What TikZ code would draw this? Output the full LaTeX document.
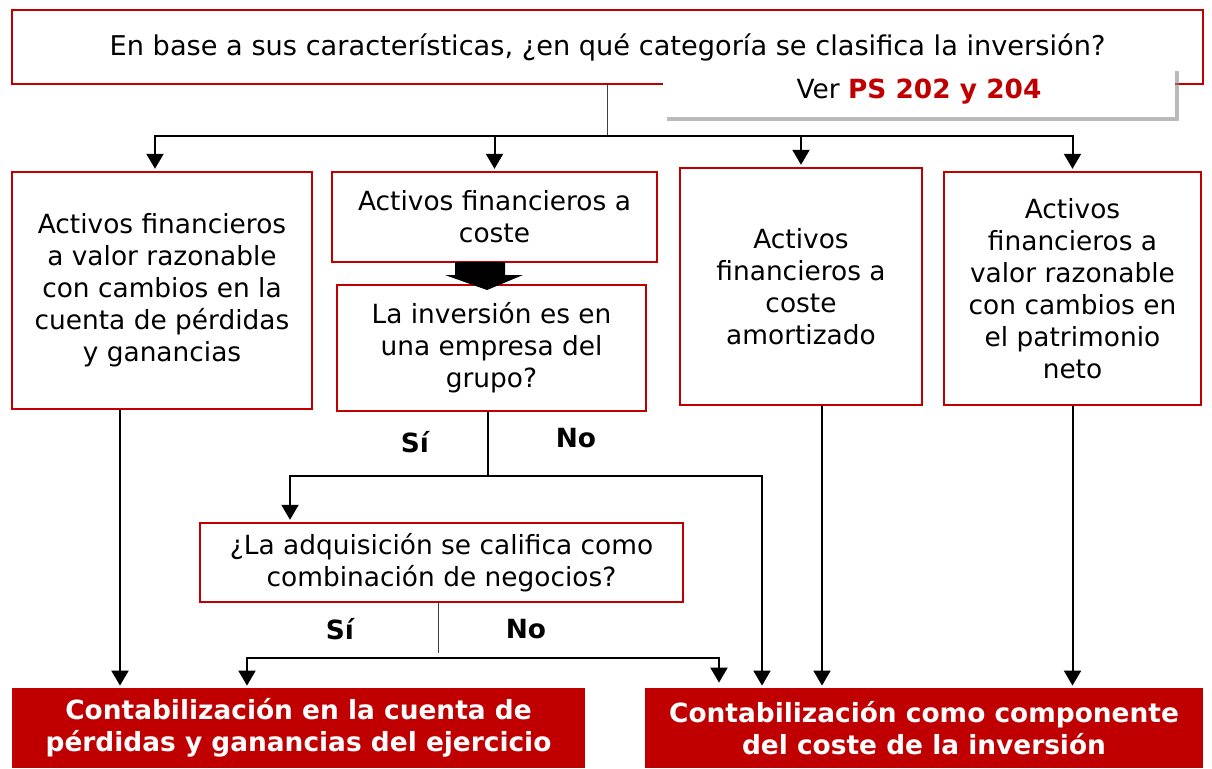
\documentclass[tikz,border=0pt]{standalone}
\usepackage{fontspec}
\setmainfont{DejaVu Sans}
\usepackage{tikz}
\usetikzlibrary{calc,arrows.meta,shadows}
\definecolor{pwcred}{HTML}{C00000}
\newcommand{\txtsize}{\fontsize{13.2}{16}\selectfont}

\begin{document}
\begin{tikzpicture}[x=0.5pt,y=-0.5pt,
		box/.style={draw=pwcred,line width=1.2pt,fill=white,inner sep=0pt,align=center,font=\txtsize},
		result/.style={fill=pwcred,inner sep=0pt,align=center,text=white,font=\txtsize\bfseries},
		flow/.style={line width=1pt,shorten >=1pt,-{Triangle[length=7.5pt,width=8.5pt]}},
		link/.style={line width=1pt},
		thinlink/.style={line width=0.5pt,black!75},
		answer/.style={font=\txtsize\bfseries}]
		\useasboundingbox[fill=white] (0,0) rectangle (1212,768);
		% question
		\node[box,minimum width=595.5pt,minimum height=37pt,font=\fontsize{13.6}{16}\selectfont] (q) at (607.5,47)
			{En base a sus características, ¿en qué categoría se clasifica la inversión?};
		\node[fill=white,inner sep=0pt,minimum width=256pt,minimum height=25pt,font=\txtsize,
			drop shadow={shadow xshift=2pt,shadow yshift=-2pt,fill=black!45,opacity=0.6}] (ver) at (919,92)
			{Ver \textcolor{pwcred}{\bfseries PS 202 y 204}};
		% categories
		\node[box,minimum width=150pt,minimum height=118.5pt] (b1) at (162,290.5)
			{Activos financieros\\a valor razonable\\con cambios en la\\cuenta de pérdidas\\y ganancias};
		\node[box,minimum width=162.5pt,minimum height=45pt] (b2) at (494.5,217)
			{Activos financieros a\\coste};
		\node[box,minimum width=154.5pt,minimum height=63pt] (b3) at (491.5,348)
			{La inversión es en\\una empresa del\\grupo?};
		\node[box,minimum width=121pt,minimum height=118.5pt] (b4) at (801,286.5)
			{Activos\\financieros a\\coste\\amortizado};
		\node[box,minimum width=128.5pt,minimum height=116.5pt] (b5) at (1072.5,288.5)
			{Activos\\financieros a\\valor razonable\\con cambios en\\el patrimonio\\neto};
		\node[box,minimum width=241.5pt,minimum height=39.5pt] (b6) at (441.5,562.5)
			{¿La adquisición se califica como\\combinación de negocios?};
		% results
		\node[result,minimum width=286.5pt,minimum height=40pt] (r1) at (298.5,728)
			{Contabilización en la cuenta de\\pérdidas y ganancias del ejercicio};
		\node[result,minimum width=279pt,minimum height=40pt] (r2) at (924,728)
			{Contabilización como componente\\del coste de la inversión};
		% answers
		\node[answer] (si1) at (415,442) {Sí};
		\node[answer] (no1) at (576,438) {No};
		\node[answer] (si2) at (340,629) {Sí};
		\node[answer] (no2) at (526,629) {No};
		% split points
		\coordinate (split) at (607,136);
		\coordinate (j1) at (488,476);
		\coordinate (j2) at (438,658);
		% connectors
		\draw[thinlink] (q.south -| split) -- (split);
		\draw[link] (split) -- ++(-15,0);
		\draw[flow] (split) -| ([xshift=-3.5pt]b1.north);
		\draw[flow] (split) -| (b2.north);
		\draw[flow] (split) -| (b4.north);
		\draw[flow] (split) -| (b5.north);
		% block arrow
		\fill[black] (455,262) -- (505,262) -- (505,275) -- (523,275) -- (487,290)
			-- (445,275) -- (455,275) -- cycle;
		\draw[link] (b3.south -| j1) -- (j1);
		\draw[flow] (j1) -| ([xshift=-75.75pt]b6.north);
		\draw[flow] (j1) -| ([xshift=-81pt]r2.north);
		\draw[thinlink] (b6.south -| j2) -- ([yshift=2.5pt]j2);
		\draw[flow] (j2) -| ([xshift=-25.75pt]r1.north);
		\draw[flow,shorten >=2.5pt] (j2) -| ([xshift=-102.5pt]r2.north);
		\draw[flow] ([xshift=-21pt]b1.south) -- ([xshift=-21pt]b1.south |- r1.north);
		\draw[flow] ([xshift=10.5pt]b4.south) -- ([xshift=10.5pt]b4.south |- r2.north);
		\draw[flow] (b5.south) -- (b5.south |- r2.north);
	\end{tikzpicture}
\end{document}
